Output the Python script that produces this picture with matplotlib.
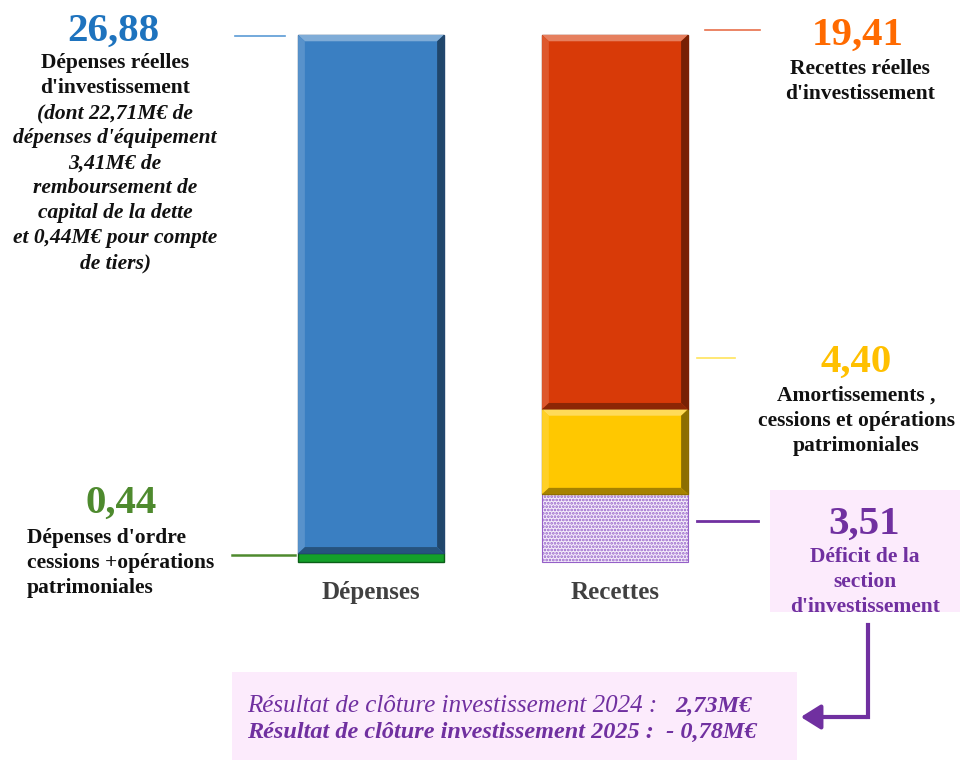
import matplotlib.pyplot as plt
from matplotlib.patches import Rectangle, FancyArrowPatch, Polygon
from matplotlib.colors import to_rgb

plt.rcParams['font.family'] = ['Liberation Serif', 'DejaVu Serif']
plt.rcParams['hatch.linewidth'] = 1.3

# données (M€)
categories = ['Dépenses', 'Recettes']
depenses_ordre = [0.44, 0]
depenses_reelles = [26.88, 0]
deficit = [0, 3.51]
amortissements = [0, 4.40]
recettes_reelles = [0, 19.41]

W, H = 960, 761


def px(x, y):
    # pixel (haut-gauche) -> fraction de figure
    return x / W, 1 - y / H


def mix(c, other, t):
    c, o = to_rgb(c), to_rgb(other)
    return tuple(a + (b - a) * t for a, b in zip(c, o))


def bevel(ax, bars, color):
    # petit effet de biseau comme dans l'original
    for p in bars.patches:
        x, y, w, h = p.get_x(), p.get_y(), p.get_width(), p.get_height()
        if h <= 0:
            continue
        bx, by = min(0.028, w / 4), min(0.33, h / 4)
        faces = [
            ([(x, y + h), (x + w, y + h), (x + w - bx, y + h - by), (x + bx, y + h - by)], mix(color, 'white', 0.35)),
            ([(x, y), (x, y + h), (x + bx, y + h - by), (x + bx, y + by)], mix(color, 'white', 0.15)),
            ([(x + w, y), (x + w, y + h), (x + w - bx, y + h - by), (x + w - bx, y + by)], mix(color, 'black', 0.45)),
            ([(x, y), (x + w, y), (x + w - bx, y + by), (x + bx, y + by)], mix(color, 'black', 0.35)),
        ]
        for pts, fc in faces:
            ax.add_patch(Polygon(pts, closed=True, facecolor=fc, edgecolor='none', zorder=3))


fig = plt.figure(figsize=(9.6, 7.61), dpi=100)
ax = fig.add_axes([0, 0, 1, 1])
ax.set_xlim(-1.5205, 2.414)
ax.set_ylim(-10.32, 29.13)
ax.axis('off')

xs = [0, 1]
bw = 0.598

# Dépenses
b = ax.bar(xs[0], depenses_ordre[0], bw, color='#14A02A', edgecolor='#0B5E18', linewidth=1.0)
b = ax.bar(xs[0], depenses_reelles[0], bw, bottom=depenses_ordre[0],
           color='#3A7FC2', edgecolor='#22456E', linewidth=1.0)
bevel(ax, b, '#3A7FC2')

# Recettes
ax.bar(xs[1], deficit[1], bw, color='#F5EEFB', edgecolor='#9560C8',
       hatch='.....', linewidth=0.8)
b = ax.bar(xs[1], amortissements[1], bw, bottom=deficit[1],
           color='#FFC800', edgecolor='#8A6A00', linewidth=1.0)
bevel(ax, b, '#FFC800')
b = ax.bar(xs[1], recettes_reelles[1], bw, bottom=deficit[1] + amortissements[1],
           color='#D83A08', edgecolor='#7A2005', linewidth=1.0)
bevel(ax, b, '#D83A08')

# étiquettes des catégories
for x, c in zip(xs, categories):
    ax.text(x, -1.6, c, ha='center', va='center', fontsize=18,
            fontweight='bold', color='#404040')


# lignes de rappel
def leader(x0, x1, y, color, lw=1.2):
    fig.add_artist(plt.Line2D([x0 / W, x1 / W], [1 - y / H, 1 - y / H],
                              color=color, lw=lw))


leader(235, 285, 36, '#5B9BD5')
leader(705, 760, 30, '#E8704A')
leader(697, 735, 358, '#FFE45C')
leader(697, 758, 521, '#7030A0', lw=2)
leader(232, 295, 555, '#4E8A2E', lw=1.8)

FS = 15.5
LS = 1.34
NS = 29.5

# textes gauche
fig.text(*px(113, 31), '26,88', ha='center', va='center', fontsize=NS,
         fontweight='bold', color='#1E73BE')
fig.text(*px(115, 53), "Dépenses réelles\nd'investissement", ha='center', va='top',
         fontsize=FS, fontweight='bold', color='#111111', linespacing=LS)
fig.text(*px(115, 103), "(dont 22,71M€ de\ndépenses d'équipement\n3,41M€ de\n"
         "remboursement de\ncapital de la dette\net 0,44M€ pour compte\nde tiers)",
         ha='center', va='top', fontsize=FS, fontweight='bold', style='italic',
         color='#111111', linespacing=LS)

fig.text(*px(121, 503), '0,44', ha='center', va='center', fontsize=NS,
         fontweight='bold', color='#4E8A2E')
fig.text(*px(27, 528), "Dépenses d'ordre\ncessions +opérations\npatrimoniales",
         ha='left', va='top', fontsize=FS, fontweight='bold', color='#111111',
         linespacing=LS)

# textes droite
fig.text(*px(858, 35), '19,41', ha='center', va='center', fontsize=NS,
         fontweight='bold', color='#FF6A00')
fig.text(*px(860, 59), "Recettes réelles\nd'investissement", ha='center', va='top',
         fontsize=FS, fontweight='bold', color='#111111', linespacing=LS)

fig.text(*px(856, 362), '4,40', ha='center', va='center', fontsize=NS,
         fontweight='bold', color='#FFC000')
fig.text(*px(856, 386), "Amortissements ,\ncessions et opérations\npatrimoniales",
         ha='center', va='top', fontsize=FS, fontweight='bold', color='#111111',
         linespacing=LS)

# encadré déficit
fig.add_artist(Rectangle(px(770, 612), 190 / W, 122 / H, transform=fig.transFigure,
                         facecolor='#FCEBFC', edgecolor='none', zorder=0))
fig.text(*px(864, 524), '3,51', ha='center', va='center', fontsize=NS,
         fontweight='bold', color='#7030A0')
fig.text(*px(865, 547), "Déficit de la\nsection\nd'investissement", ha='center',
         va='top', fontsize=FS, fontweight='bold', color='#7030A0', linespacing=LS)

# flèche
fig.add_artist(plt.Line2D([868 / W, 868 / W], [1 - 625 / H, 1 - 717 / H],
                          color='#7030A0', lw=3))
fig.add_artist(FancyArrowPatch(px(869, 717), px(798, 717), transform=fig.transFigure,
                               arrowstyle='-|>,head_length=8,head_width=5',
                               color='#7030A0', lw=3, mutation_scale=1.5))

# encadré résultat
fig.add_artist(Rectangle(px(232, 760), 565 / W, 88 / H, transform=fig.transFigure,
                         facecolor='#FCEBFC', edgecolor='none', zorder=0))
fig.text(*px(247, 706), 'Résultat de clôture investissement 2024 :', ha='left',
         va='center', fontsize=18, style='italic', color='#7030A0')
fig.text(*px(752, 706), '2,73M€', ha='right', va='center', fontsize=17.5,
         style='italic', fontweight='bold', color='#7030A0')
fig.text(*px(247, 732), 'Résultat de clôture investissement 2025 :  - 0,78M€',
         ha='left', va='center', fontsize=17.5, style='italic', fontweight='bold',
         color='#7030A0')

fig.savefig('out.png', dpi=100)
